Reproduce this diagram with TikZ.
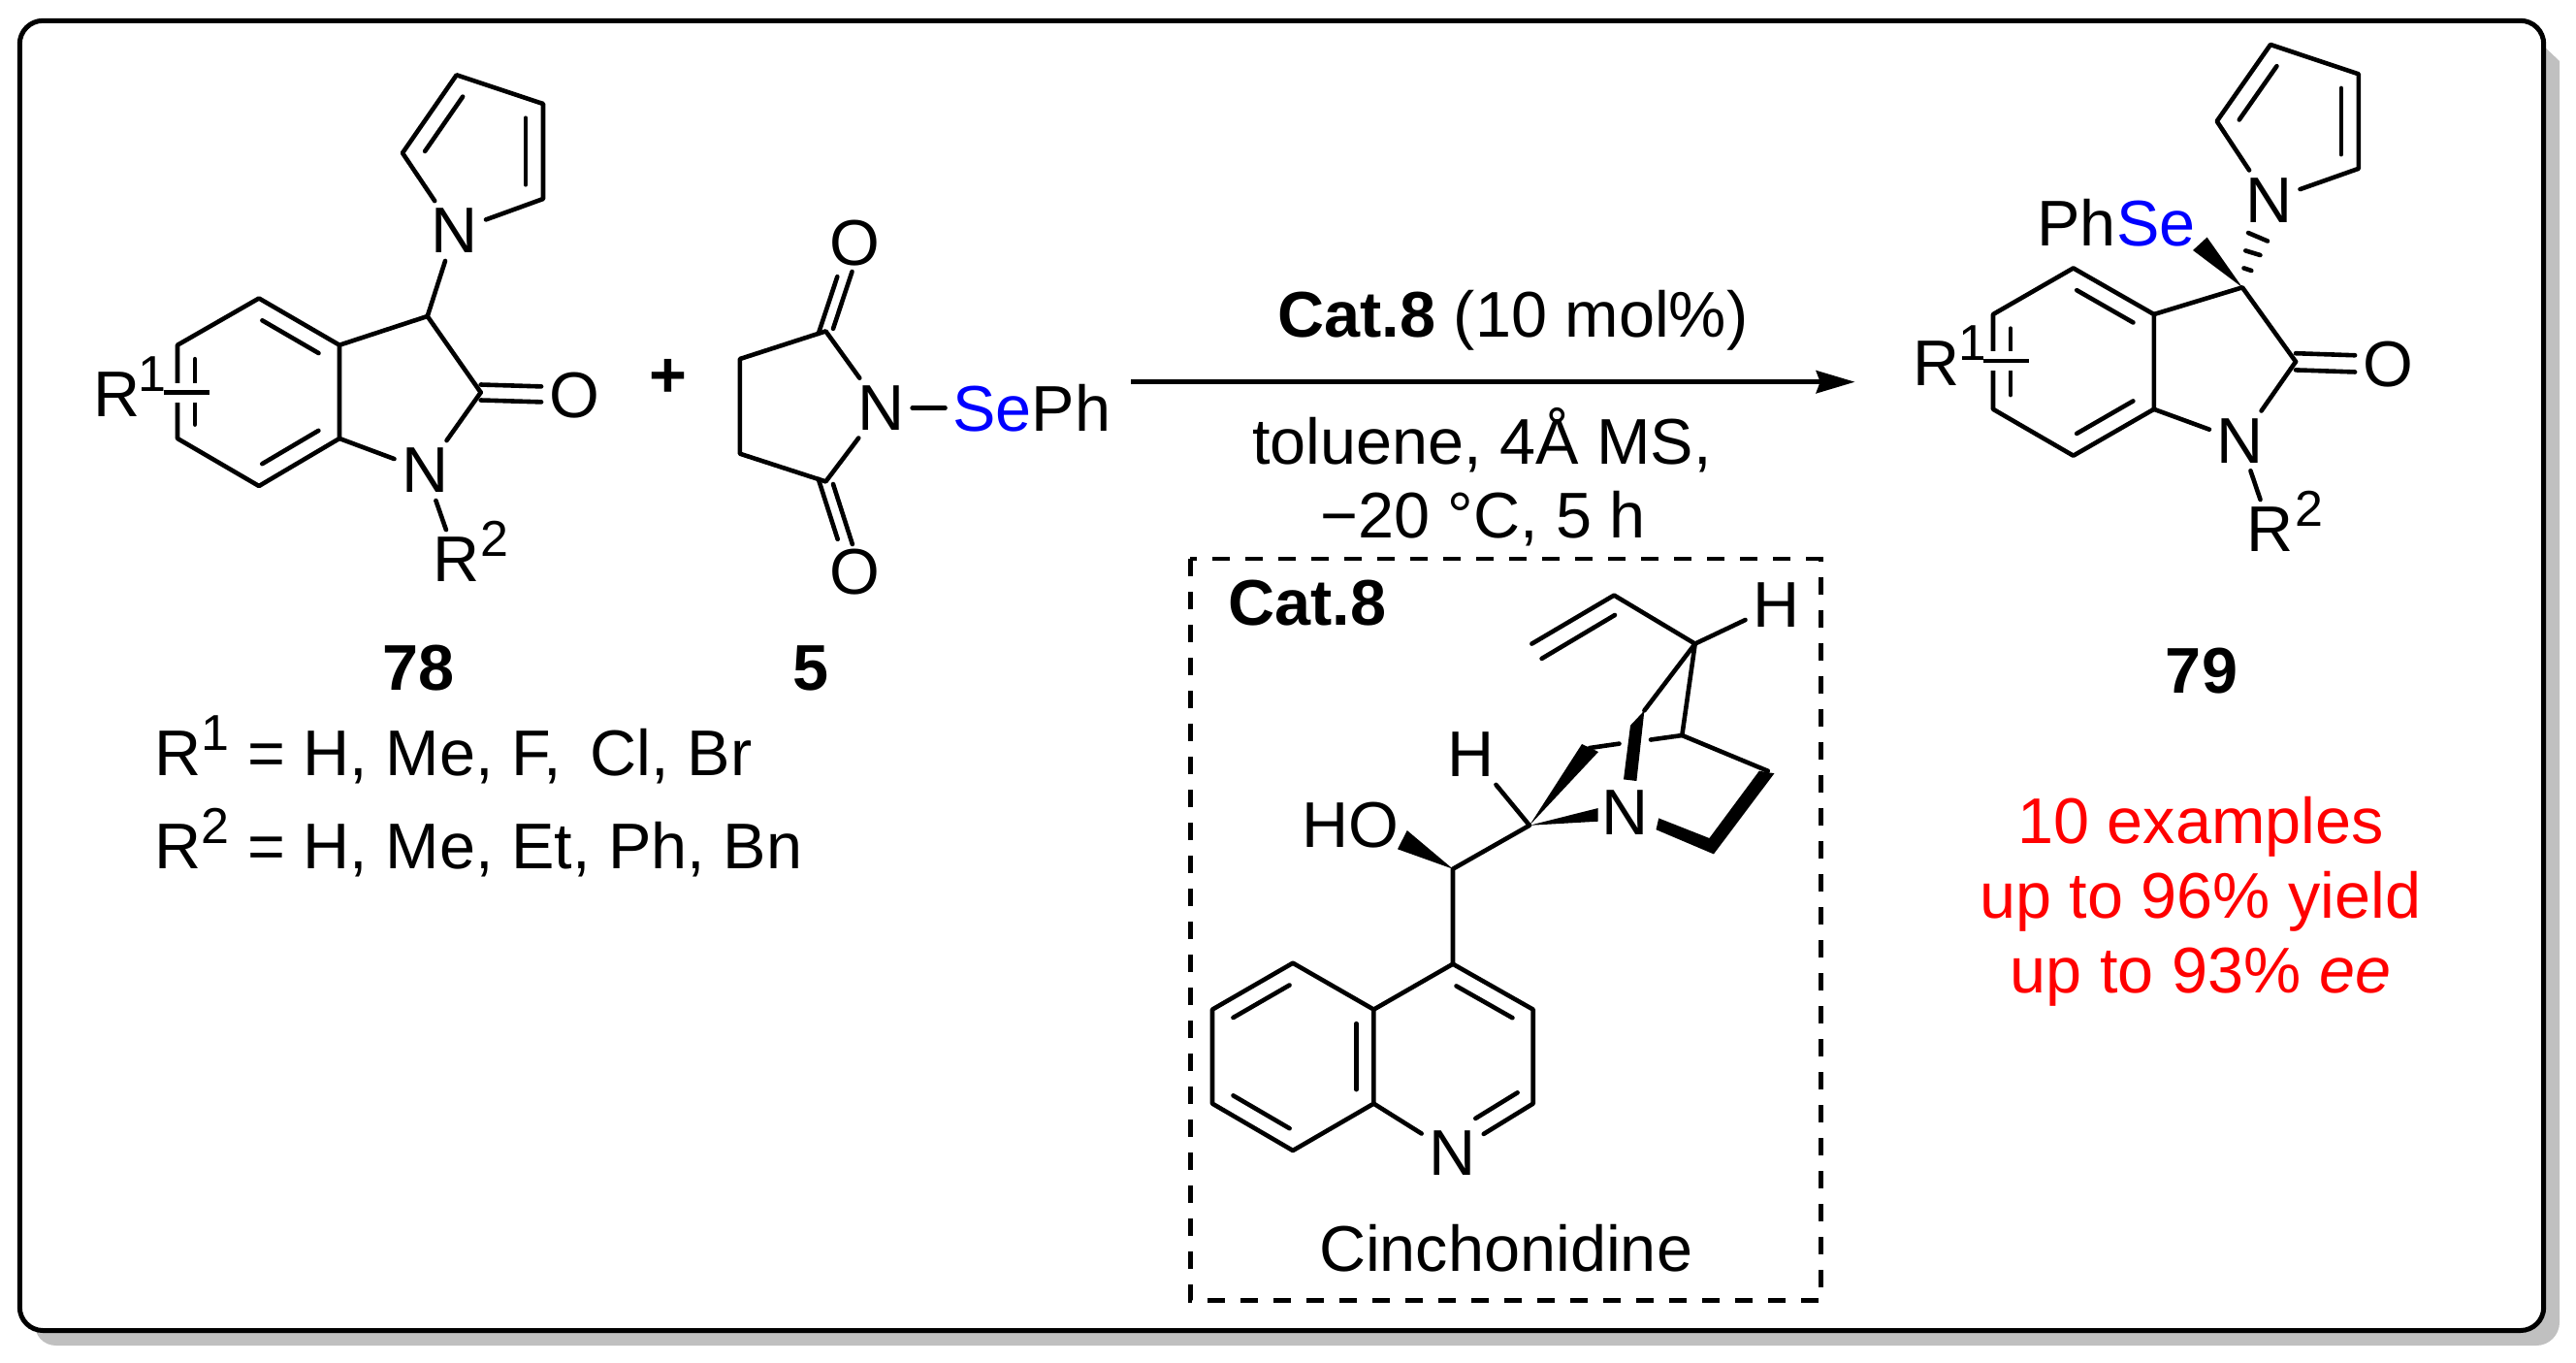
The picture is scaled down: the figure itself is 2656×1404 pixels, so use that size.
\documentclass[tikz,border=0pt]{standalone}
\usepackage{fontspec}
\setmainfont{Liberation Sans}
\usepackage{xcolor}
\definecolor{SeBlue}{HTML}{0000FF}
\definecolor{ShadowGray}{HTML}{C0C0C0}
\usetikzlibrary{arrows.meta, positioning, calc}
\tikzset{
  % Frame styles
  framebox/.style={draw=black, fill=white, line width=2.5pt, rounded corners=12pt},
  catbox/.style={draw=black, line width=2.4pt, dash pattern=on 9pt off 8pt},
  % Bond styles
  bond/.style={line width=2.3pt, line cap=round, line join=round},
  arrow/.style={-{Stealth[length=20pt, width=11.5pt, inset=2pt]}, line width=2.6pt},
  r1bond/.style={bond, line cap=butt, preaction={draw=white, line width=10pt, line cap=butt}},
  % Node styles
  atom/.style={inner sep=0pt, outer sep=4pt, font=\fontsize{33.3}{33.3}\selectfont},
  supnum/.style={inner sep=0pt, outer sep=0pt, anchor=base west, font=\fontsize{26}{26}\selectfont},
  txt/.style={inner sep=0pt, font=\fontsize{33.3}{38}\selectfont, align=center},
  boldtxt/.style={txt, font=\fontsize{33.3}{38}\selectfont\bfseries}
}
% inner line of a double bond, on the right hand of the way from #1 to #2
\newcommand{\innerbond}[2]{\draw[bond] ($(#1)!0.15!(#2)!9pt!-90:(#2)$) -- ($(#2)!0.15!(#1)!9pt!90:(#1)$);}
\newcommand{\rsup}[1]{\raisebox{13pt}{\fontsize{26}{26}\selectfont #1}}

\begin{document}
\begin{tikzpicture}[x=0.5pt, y=-0.5pt]
  \useasboundingbox (0,0) rectangle (2656,1404);

  % Frame and its shadow
  \fill[ShadowGray] (2620,45) -- (2639,63) [rounded corners=12pt] -- (2639,1387) -- (34,1387) [sharp corners] -- (36,1363) -- cycle;
  \draw[framebox] (20.3,21.3) rectangle (2622.7,1371.5);

  % Compound 78
  \coordinate (a1) at (267,307.5);
  \coordinate (a2) at (350,355.7);
  \coordinate (a3) at (350,452);
  \coordinate (a4) at (267,501);
  \coordinate (a5) at (183,452);
  \coordinate (a6) at (183,355.7);
  \coordinate (a7) at (440.7,326);
  \coordinate (a8) at (495.7,404.5);
  \node[atom] (an) at (438.6,485) {N};
  \node[atom] (ao) at (592,407.4) {O};
  \node[atom] (apn) at (469,238) {N};
  \coordinate (ap1) at (415,157.7);
  \coordinate (ap2) at (470.7,77.3);
  \coordinate (ap3) at (560,107);
  \coordinate (ap4) at (560,205);
  \node[atom] (ar1) at (120.7,407) {R};
  \node[supnum] (ar1n) at ([xshift=-5pt, yshift=13pt]ar1.base east) {1};
  \node[atom] (ar2) at (470.7,577) {R};
  \node[supnum] (ar2n) at ([xshift=-3.5pt, yshift=13pt]ar2.base east) {2};
  \coordinate (ar1s) at (168.6,404.5);
  \coordinate (ar1e) at (215.7,404.5);
  \draw[bond] (a1) -- (a2) -- (a3) -- (a4) -- (a5) -- (a6) -- cycle;
  \draw[bond] (a2) -- (a7) -- (a8);
  \draw[bond] (a3) -- (an);
  \draw[bond] (a8) -- (an);
  \draw[bond] (a7) -- (apn);
  \draw[bond] (an) -- (ar2);
  \draw[bond] (apn) -- (ap1) -- (ap2) -- (ap3) -- (ap4) -- (apn);
  \draw[bond, transform canvas={yshift=4pt}] (a8) -- (ao);
  \draw[bond, transform canvas={yshift=-4pt}] (a8) -- (ao);
  \innerbond{a1}{a2}
  \innerbond{a3}{a4}
  \innerbond{a5}{a6}
  \innerbond{ap1}{ap2}
  \innerbond{ap3}{ap4}
  \draw[r1bond] (ar1s) -- (ar1e);

  \node[boldtxt] (lab78) at (431.4,688.7) {78};
  \node[txt, font=\fontsize{33.3}{38}\selectfont\bfseries] (plus) at (688.6,390) {+};
  \node[txt, anchor=base west] (r1list) at (159.5,799.5) {R\rsup{1} = H, Me, F,\, Cl, Br};
  \node[txt, anchor=base west] (r2list) at (159.5,895.5) {R\rsup{2} = H, Me, Et, Ph, Bn};

  % Compound 5
  \coordinate (b1) at (762.9,370);
  \coordinate (b2) at (762.9,467.7);
  \coordinate (b3) at (851.4,341.4);
  \coordinate (b4) at (851.4,496.4);
  \node[atom] (bn) at (908.6,420.6) {N};
  \node[atom] (bo1) at (881.4,251) {O};
  \node[atom] (bo2) at (881.4,590) {O};
  \node[atom, anchor=west, outer sep=4pt] (bse) at (974.5,420.6) {\textcolor{SeBlue}{Se}Ph};
  \draw[bond] (bn) -- (b3) -- (b1) -- (b2) -- (b4) -- (bn);
  \draw[bond] (bn) -- (bse);
  \draw[bond, transform canvas={xshift=3.8pt, yshift=1.3pt}] (b3) -- (bo1);
  \draw[bond, transform canvas={xshift=-3.8pt, yshift=-1.3pt}] (b3) -- (bo1);
  \draw[bond, transform canvas={xshift=3.8pt, yshift=-1.3pt}] (b4) -- (bo2);
  \draw[bond, transform canvas={xshift=-3.8pt, yshift=1.3pt}] (b4) -- (bo2);
  \node[boldtxt] (lab5) at (836.4,688.7) {5};

  % Reaction arrow and conditions
  \coordinate (arrs) at (1166,393.7);
  \coordinate (arre) at (1912.7,393.7);
  \draw[arrow] (arrs) -- (arre);
  \node[txt] (cond1) at (1560,330) {\textbf{Cat.8} (10 mol\%)};
  \node[txt] (cond2) at (1528,454) {toluene, 4Å MS,};
  \node[txt] (cond3) at (1529,535) {−20 °C, 5 h};

  % Catalyst box
  \draw[catbox] (1227.3,576) rectangle (1877.3,1340.3);
  \node[boldtxt] (catlab) at (1348,622) {Cat.8};
  \coordinate (q1) at (1333,992.7);
  \coordinate (q2) at (1250,1040.6);
  \coordinate (q3) at (1250,1137.6);
  \coordinate (q4) at (1333,1186);
  \coordinate (q5) at (1416.4,1137.6);
  \coordinate (q6) at (1416.4,1040.6);
  \coordinate (q7) at (1498,993.7);
  \coordinate (q8) at (1580.7,1040.6);
  \coordinate (q9) at (1580.7,1137.6);
  \node[atom] (qn) at (1497.7,1188.6) {N};
  \coordinate (qi1) at (1564.6,1126.3);
  \coordinate (qi2) at (1521.3,1152.9);
  \draw[bond] (q1) -- (q2) -- (q3) -- (q4) -- (q5) -- (q6) -- cycle;
  \draw[bond] (q6) -- (q7) -- (q8) -- (q9) -- (qn) -- (q5);
  \draw[bond] (qi1) -- (qi2);
  \innerbond{q2}{q1}
  \innerbond{q4}{q3}
  \innerbond{q6}{q5}
  \innerbond{q7}{q8}
  \coordinate (c9) at (1498,895.7);
  \coordinate (c8) at (1577,850.8);
  \node[atom] (coh) at (1392,851) {HO};
  \node[atom] (ch8) at (1517,778) {H};
  \node[atom] (cn) at (1675.4,838) {N};
  \node[atom] (ch3) at (1831.6,623.8) {H};
  \coordinate (c3) at (1747.7,663.6);
  \coordinate (c4) at (1734.3,758);
  \coordinate (c5) at (1822.7,794.7);
  \coordinate (c6) at (1702,762.5);
  \coordinate (c7) at (1669.5,766.6);
  \coordinate (c10) at (1639,771);
  \coordinate (c11) at (1695.4,732.4);
  \coordinate (v1) at (1664.2,613.6);
  \coordinate (v2) at (1579.4,663.6);
  \coordinate (vi1) at (1589.6,678.9);
  \coordinate (vi2) at (1665,634);
  \draw[bond] (q7) -- (c9) -- (c8) -- (ch8);
  \draw[bond] (v2) -- (v1) -- (c3) -- (c11);
  \draw[bond] (vi1) -- (vi2);
  \draw[bond] (c3) -- (ch3);
  \draw[bond] (c3) -- (c4) -- (c5);
  \draw[bond] (c4) -- (c6);
  \draw[bond] (c10) -- (c7);
  \fill (c9) -- (1450.8,856) -- (1441,875.3) -- cycle;
  \fill (c8) -- (1631,767) -- (1648,775) -- cycle;
  \fill (c8) -- (1647.7,833) -- (1647.7,846.7) -- cycle;
  \fill (1695.4,732.4) -- (1681,747.8) -- (1674,803.4) -- (1687.4,805) -- cycle;
  \fill (1710.2,843.4) -- (1707.5,855.2) -- (1766.9,880.4) -- (1829.4,797.2) -- (1813.8,794.7) -- (1762.4,864) -- cycle;
  \node[txt] (cinch) at (1552.6,1287) {Cinchonidine};

  % Compound 79
  \coordinate (d1) at (2137.7,276.4);
  \coordinate (d2) at (2220.8,324);
  \coordinate (d3) at (2220.8,421.8);
  \coordinate (d4) at (2137.7,469.7);
  \coordinate (d5) at (2055,421.8);
  \coordinate (d6) at (2055,324);
  \coordinate (d7) at (2312,296.3);
  \coordinate (d8) at (2367,372.8);
  \node[atom] (dn) at (2310,454.4) {N};
  \node[atom] (do) at (2462,376) {O};
  \node[atom] (dpn) at (2339.5,206.4) {N};
  \coordinate (dp1) at (2285.7,125);
  \coordinate (dp2) at (2341,46);
  \coordinate (dp3) at (2431.8,76.3);
  \coordinate (dp4) at (2431.8,173.8);
  \node[atom] (dse) at (2182,229.7) {Ph\textcolor{SeBlue}{Se}};
  \node[atom] (dr1) at (1997,375) {R};
  \node[supnum] (dr1n) at ([xshift=-5pt, yshift=13pt]dr1.base east) {1};
  \node[atom] (dr2) at (2341,546) {R};
  \node[supnum] (dr2n) at ([xshift=-3.5pt, yshift=13pt]dr2.base east) {2};
  \coordinate (dr1s) at (2045,372);
  \coordinate (dr1e) at (2092,372);
  \draw[bond] (d1) -- (d2) -- (d3) -- (d4) -- (d5) -- (d6) -- cycle;
  \draw[bond] (d2) -- (d7) -- (d8);
  \draw[bond] (d3) -- (dn);
  \draw[bond] (d8) -- (dn);
  \draw[bond] (dn) -- (dr2);
  \draw[bond] (dpn) -- (dp1) -- (dp2) -- (dp3) -- (dp4) -- (dpn);
  \draw[bond, transform canvas={yshift=4.3pt}] (d8) -- (do);
  \draw[bond, transform canvas={yshift=-4.3pt}] (d8) -- (do);
  \innerbond{d1}{d2}
  \innerbond{d3}{d4}
  \innerbond{d5}{d6}
  \innerbond{dp1}{dp2}
  \innerbond{dp3}{dp4}
  \draw[r1bond] (dr1s) -- (dr1e);
  % PhSe wedge and hashes to the pyrrole N
  \fill (d7) -- (2275.6,244.6) -- (2261,258) -- cycle;
  \foreach \hx/\hy/\ix/\iy in {2313.5/276.4/2321.3/279, 2315.3/258.4/2330.4/263, 2318/240/2338/248.5}
    \draw[bond] (\hx,\hy) -- (\ix,\iy);

  \node[boldtxt] (lab79) at (2270,692) {79};
  \node[txt, text=red] (res1) at (2269,852) {10 examples};
  \node[txt, text=red] (res2) at (2269,929) {up to 96\% yield};
  \node[txt, text=red] (res3) at (2269,1007) {up to 93\% \textit{ee}};
\end{tikzpicture}
\end{document}
